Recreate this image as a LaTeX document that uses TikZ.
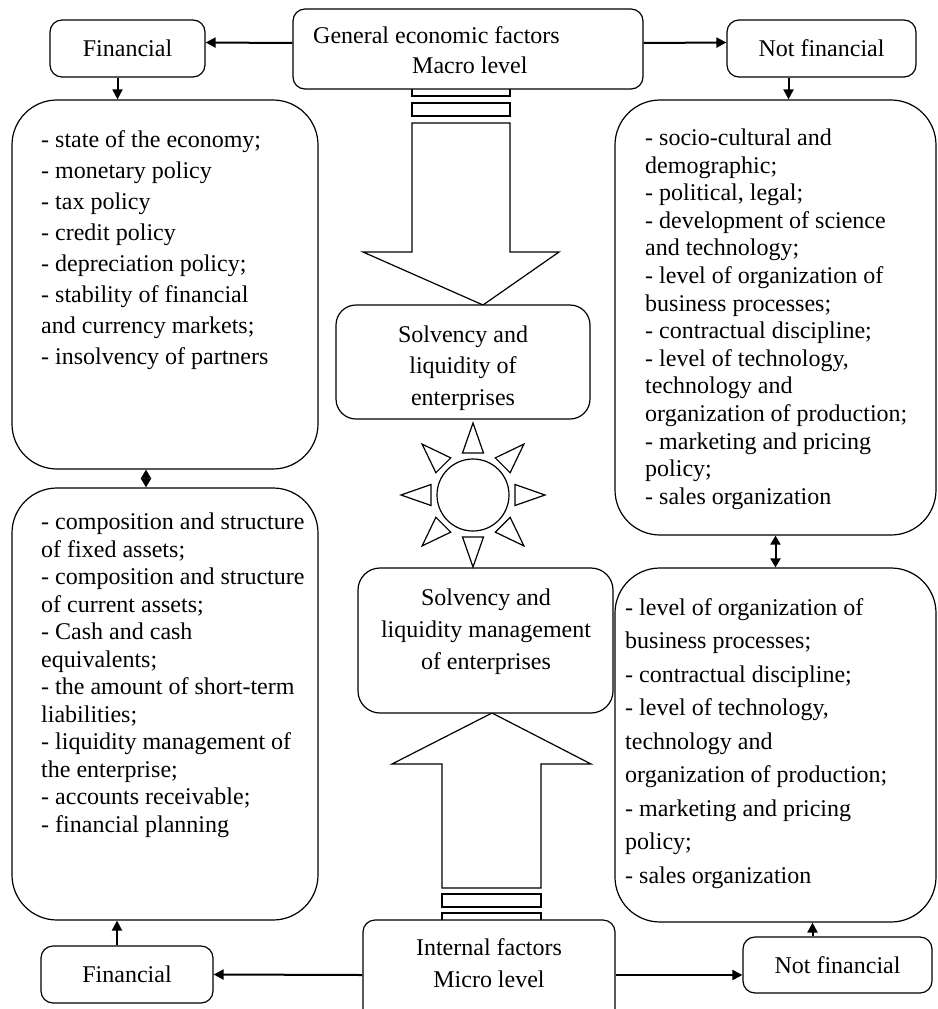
\documentclass[tikz,border=0pt]{standalone}
\usepackage{fontspec}
\setmainfont{Liberation Serif}
\usetikzlibrary{arrows.meta,calc}
\begin{document}
\begin{tikzpicture}[x=1pt,y=-1pt,
 box/.style={draw, line width=1.2pt, rounded corners=12pt, fill=white, inner sep=0pt},
 big/.style={draw, line width=1.2pt, rounded corners=45pt, fill=white, inner sep=0pt},
 txt/.style={font=\fontsize{24}{27.5}\selectfont},
 listtxt/.style={align=left, inner sep=0pt, anchor=north west},
 ctxt/.style={align=center, inner sep=0pt, anchor=north},
 conn/.style={line width=2pt, -{Triangle[length=10pt,width=10pt]}},
 dbl/.style={line width=2pt, {Triangle[length=9pt,width=10pt]}-{Triangle[length=9pt,width=10pt]}},
 blk/.style={draw, line width=1.2pt, fill=white},
 ray/.style={draw, line width=1.2pt, fill=white}]
\clip (0,0) rectangle (937,1009);
% block arrows
\draw[blk] (412,88) rectangle (510,96);
\draw[blk] (412,103) rectangle (510,116);
\draw[blk] (412,123) -- (510,123) -- (510,252) -- (559,252) -- (483,305) -- (363,252) -- (412,252) -- cycle;
\draw[blk] (442,894) rectangle (541,907);
\draw[blk] (442,913) rectangle (541,926);
\draw[blk] (442,888) -- (541,888) -- (541,764) -- (591,764) -- (492,713) -- (392,764) -- (442,764) -- cycle;
% top row
\node[box, minimum width=155, minimum height=57, txt] (finT) at (127.5,48.5) {Financial};
\node[box, minimum width=350, minimum height=80] (gen) at (468,49) {};
\node[listtxt, font=\fontsize{24}{30}\selectfont] (gentxt) at (313,26.5) {General economic factors\\\hspace*{99pt}Macro level};
\node[box, minimum width=189, minimum height=57, txt] (nfT) at (821.5,48.5) {Not financial};
% big boxes
\node[big, minimum width=306, minimum height=369] (lt) at (165,284.5) {};
\node[listtxt, font=\fontsize{24}{31}\selectfont] (lttxt) at (41,130.5) {- state of the economy;\\- monetary policy\\- tax policy\\- credit policy\\- depreciation policy;\\- stability of financial\\and currency markets;\\- insolvency of partners};
\node[big, minimum width=306, minimum height=432] (lb) at (165,704) {};
\node[listtxt, font=\fontsize{24}{27.5}\selectfont] (lbtxt) at (41,513) {- composition and structure\\of fixed assets;\\- composition and structure\\of current assets;\\- Cash and cash\\equivalents;\\- the amount of short-term\\liabilities;\\- liquidity management of\\the enterprise;\\- accounts receivable;\\- financial planning};
\node[big, minimum width=321, minimum height=435] (rt) at (775.5,317.5) {};
\node[listtxt, font=\fontsize{24}{27.6}\selectfont] (rttxt) at (645,128.6) {- socio-cultural and\\demographic;\\- political, legal;\\- development of science\\and technology;\\- level of organization of\\business processes;\\- contractual discipline;\\- level of technology,\\technology and\\organization of production;\\- marketing and pricing\\policy;\\- sales organization};
\node[big, minimum width=321, minimum height=354] (rb) at (775.5,745) {};
\node[listtxt, font=\fontsize{24}{33.5}\selectfont] (rbtxt) at (625,598) {- level of organization of\\business processes;\\- contractual discipline;\\- level of technology,\\technology and\\organization of production;\\- marketing and pricing\\policy;\\- sales organization};
% centre boxes
\node[box, rounded corners=20pt, minimum width=254, minimum height=114] (sol) at (463,362) {};
\node[ctxt, font=\fontsize{24}{31.5}\selectfont] (soltxt) at (463,325.6) {Solvency and\\liquidity of\\enterprises};
\node[box, rounded corners=22pt, minimum width=255, minimum height=145] (man) at (485.5,640.5) {};
\node[ctxt, font=\fontsize{24}{32}\selectfont] (mantxt) at (486,588.6) {Solvency and\\liquidity management\\of enterprises};
\node[box, minimum width=252, minimum height=110] (int) at (489,975) {};
\node[ctxt, font=\fontsize{24}{32}\selectfont] (inttxt) at (489,938.6) {Internal factors\\Micro level};
% bottom row
\node[box, minimum width=172, minimum height=57, txt] (finB) at (127,974.5) {Financial};
\node[box, minimum width=189, minimum height=56, txt] (nfB) at (837.5,965) {Not financial};
% sun
\node[draw, circle, minimum size=72pt, line width=1.2pt, inner sep=0pt] (sun) at (473,495) {};
\foreach \a in {0,45,...,315}
  \draw[ray, rotate around={\a:(473,495)}] (545,495) -- (515,505.5) -- (515,484.5) -- cycle;
% connectors
\draw[conn] ([yshift=6pt]gen.west) -- ([yshift=6pt]finT.east);
\draw[conn] ([yshift=6pt]gen.east) -- ([yshift=6pt]nfT.west);
\coordinate (a1) at ([xshift=-10pt]finT.south);
\draw[conn] (a1) -- (a1 |- lt.north);
\coordinate (a2) at ([xshift=-33pt]nfT.south);
\draw[conn] (a2) -- (a2 |- rt.north);
\coordinate (a5) at ([xshift=-19pt]lt.south);
\draw[dbl] (a5) -- (a5 |- lb.north);
\draw[dbl] (rt.south) -- (rb.north);
\coordinate (a3) at ([xshift=-10pt]finB.north);
\draw[conn] (a3) -- (a3 |- lb.south);
\coordinate (a4) at ([xshift=-25pt]nfB.north);
\draw[conn] (a4) -- (a4 |- rb.south);
\draw[conn] (int.west) -- (finB.east);
\draw[conn] (int.east) -- (int.east -| nfB.west);
\end{tikzpicture}
\end{document}
